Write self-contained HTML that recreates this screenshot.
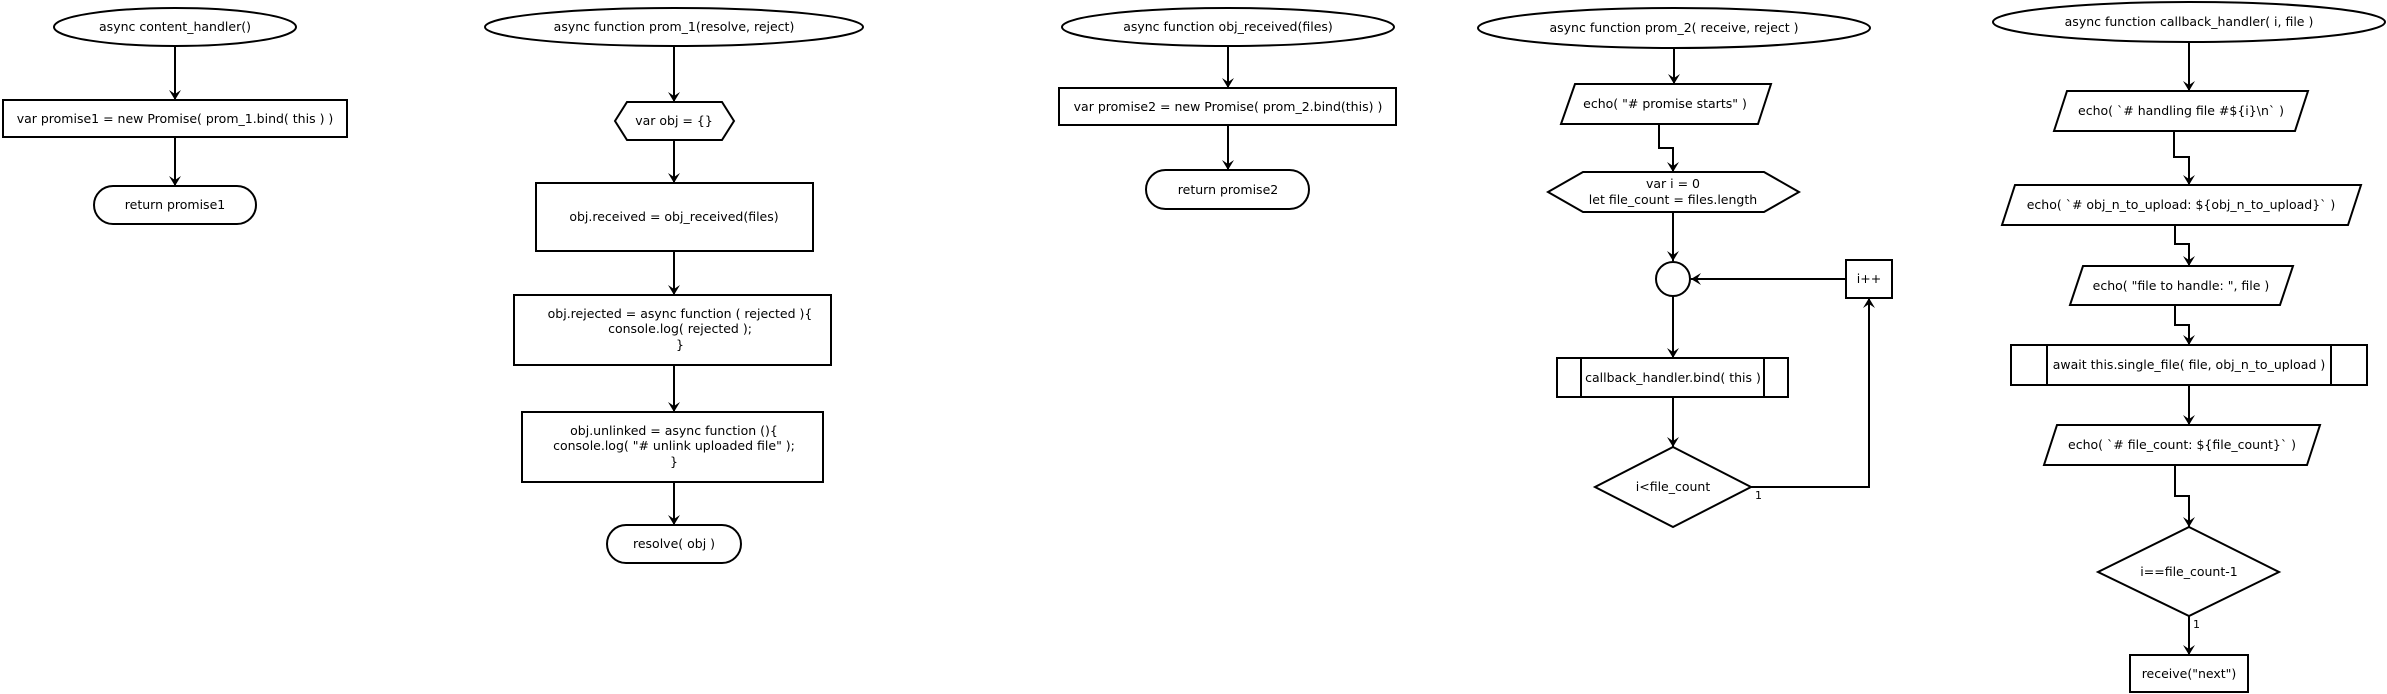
<!DOCTYPE html>
<html><head><meta charset="utf-8"><style>
html,body{margin:0;padding:0;background:#fff;}
svg{display:block;}
text{font-family:"DejaVu Sans","Liberation Sans",sans-serif;font-size:12.5px;fill:#000;text-anchor:middle;}
.s{fill:#fff;stroke:#000;stroke-width:2;}
.l{fill:none;stroke:#000;stroke-width:2;}
</style></head><body>
<svg width="2387" height="694" viewBox="0 0 2387 694" xmlns="http://www.w3.org/2000/svg">
<defs><marker id="a" markerWidth="12" markerHeight="12" refX="10" refY="6" orient="auto" markerUnits="userSpaceOnUse"><path d="M0,0 L10,6 L0,12 L4,6 Z" fill="#000"/></marker></defs>

<!-- Column 1 -->
<ellipse class="s" cx="175" cy="27" rx="121" ry="19"/>
<text x="175" y="31">async content_handler()</text>
<path class="l" d="M175,46 V100" marker-end="url(#a)"/>
<rect class="s" x="3" y="100" width="344" height="37"/>
<text x="175" y="123">var promise1 = new Promise( prom_1.bind( this ) )</text>
<path class="l" d="M175,137 V186" marker-end="url(#a)"/>
<rect class="s" x="94" y="186" width="162" height="38" rx="19"/>
<text x="175" y="209">return promise1</text>

<!-- Column 2 -->
<ellipse class="s" cx="674" cy="27" rx="189" ry="19"/>
<text x="674" y="31">async function prom_1(resolve, reject)</text>
<path class="l" d="M674,46 V102" marker-end="url(#a)"/>
<polygon class="s" points="627,102 722,102 734,121 722,140 627,140 615,121"/>
<text x="674" y="125">var obj = {}</text>
<path class="l" d="M674,140 V183" marker-end="url(#a)"/>
<rect class="s" x="536" y="183" width="277" height="68"/>
<text x="674" y="221">obj.received = obj_received(files)</text>
<path class="l" d="M674,251 V295" marker-end="url(#a)"/>
<rect class="s" x="514" y="295" width="317" height="70"/>
<text x="680" y="318">obj.rejected = async function ( rejected ){</text>
<text x="680" y="333">console.log( rejected );</text>
<text x="680" y="349">}</text>
<path class="l" d="M674,365 V412" marker-end="url(#a)"/>
<rect class="s" x="522" y="412" width="301" height="70"/>
<text x="674" y="435">obj.unlinked = async function (){</text>
<text x="674" y="450">console.log( "# unlink uploaded file" );</text>
<text x="674" y="466">}</text>
<path class="l" d="M674,482 V525" marker-end="url(#a)"/>
<rect class="s" x="607" y="525" width="134" height="38" rx="19"/>
<text x="674" y="548">resolve( obj )</text>

<!-- Column 3 -->
<ellipse class="s" cx="1228" cy="27" rx="166" ry="19"/>
<text x="1228" y="31">async function obj_received(files)</text>
<path class="l" d="M1228,46 V88" marker-end="url(#a)"/>
<rect class="s" x="1059" y="88" width="337" height="37"/>
<text x="1228" y="111">var promise2 = new Promise( prom_2.bind(this) )</text>
<path class="l" d="M1228,125 V170" marker-end="url(#a)"/>
<rect class="s" x="1146" y="170" width="163" height="39" rx="19.5"/>
<text x="1228" y="194">return promise2</text>

<!-- Column 4 -->
<ellipse class="s" cx="1674" cy="28" rx="196" ry="20"/>
<text x="1674" y="32">async function prom_2( receive, reject )</text>
<path class="l" d="M1674,48 V84" marker-end="url(#a)"/>
<polygon class="s" points="1575,84 1771,84 1758,124 1561,124"/>
<text x="1665" y="108">echo( "# promise starts" )</text>
<path class="l" d="M1659,124 V148 H1673 V172" marker-end="url(#a)"/>
<polygon class="s" points="1583,172 1764,172 1799,192 1764,212 1583,212 1548,192"/>
<text x="1673" y="188">var i = 0</text>
<text x="1673" y="204">let file_count = files.length</text>
<path class="l" d="M1673,212 V261" marker-end="url(#a)"/>
<circle class="s" cx="1673" cy="279" r="17"/>
<rect class="s" x="1846" y="260" width="46" height="38"/>
<text x="1869" y="283">i++</text>
<path class="l" d="M1846,279 H1691" marker-end="url(#a)"/>
<path class="l" d="M1673,296 V358" marker-end="url(#a)"/>
<rect class="s" x="1557" y="358" width="231" height="39"/>
<path class="l" d="M1581,358 V397 M1764,358 V397"/>
<text x="1673" y="382">callback_handler.bind( this )</text>
<path class="l" d="M1673,397 V447" marker-end="url(#a)"/>
<polygon class="s" points="1673,447 1751,487 1673,527 1595,487"/>
<text x="1673" y="491">i&lt;file_count</text>
<path class="l" d="M1751,487 H1869 V298" marker-end="url(#a)"/>
<text x="1755" y="499" style="text-anchor:start;font-size:11px">1</text>

<!-- Column 5 -->
<ellipse class="s" cx="2189" cy="22" rx="196" ry="20"/>
<text x="2189" y="26">async function callback_handler( i, file )</text>
<path class="l" d="M2189,42 V91" marker-end="url(#a)"/>
<polygon class="s" points="2067,91 2308,91 2295,131 2054,131"/>
<text x="2181" y="115">echo( `# handling file #${i}\n` )</text>
<path class="l" d="M2174,131 V157 H2189 V185" marker-end="url(#a)"/>
<polygon class="s" points="2015,185 2361,185 2348,225 2002,225"/>
<text x="2181" y="209">echo( `# obj_n_to_upload: ${obj_n_to_upload}` )</text>
<path class="l" d="M2175,225 V244 H2189 V266" marker-end="url(#a)"/>
<polygon class="s" points="2083,266 2293,266 2280,305 2070,305"/>
<text x="2181" y="290">echo( "file to handle: ", file )</text>
<path class="l" d="M2175,305 V325 H2189 V345" marker-end="url(#a)"/>
<rect class="s" x="2011" y="345" width="356" height="40"/>
<path class="l" d="M2047,345 V385 M2331,345 V385"/>
<text x="2189" y="369">await this.single_file( file, obj_n_to_upload )</text>
<path class="l" d="M2189,385 V425" marker-end="url(#a)"/>
<polygon class="s" points="2057,425 2320,425 2307,465 2044,465"/>
<text x="2182" y="449">echo( `# file_count: ${file_count}` )</text>
<path class="l" d="M2175,465 V496 H2189 V527" marker-end="url(#a)"/>
<polygon class="s" points="2189,527 2279,572 2189,616 2098,572"/>
<text x="2189" y="576">i==file_count-1</text>
<path class="l" d="M2189,616 V655" marker-end="url(#a)"/>
<text x="2193" y="628" style="text-anchor:start;font-size:11px">1</text>
<rect class="s" x="2130" y="655" width="118" height="37"/>
<text x="2189" y="678">receive("next")</text>
</svg>
</body></html>
